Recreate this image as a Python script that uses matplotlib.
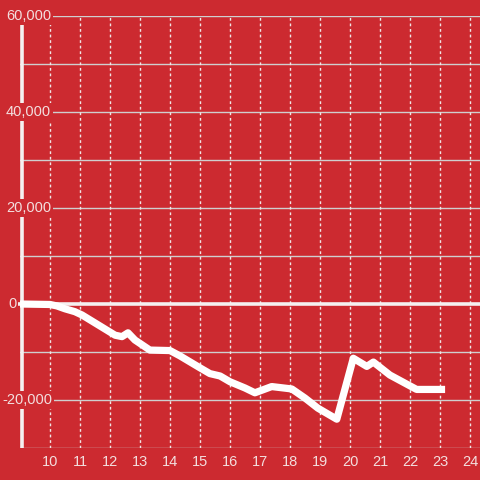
import numpy as np
import matplotlib
matplotlib.use("Agg")
import matplotlib.pyplot as plt
import matplotlib.transforms as mtransforms

# ─── data ────────────────────────────────────────────────────────────────────
hours = [9.0, 10.0, 10.23, 10.5, 10.83, 11.07, 12.17, 12.4, 12.6, 12.83,
         13.33, 14.0, 14.33, 15.0, 15.33, 15.67, 16.0, 16.5, 16.83, 17.39,
         18.06, 18.5, 18.93, 19.56, 20.11, 20.56, 20.78, 21.33, 22.22, 23.17]
values = [0, -100, -400, -1000, -1600, -2300, -6500, -6800, -6000, -7500,
          -9600, -9700, -10800, -13300, -14500, -15000, -16200, -17500, -18500, -17200,
          -17700, -19600, -21700, -24000, -11300, -13000, -12100, -14800, -17800, -17800]

x_ticks = list(range(10, 25))
y_grid = list(range(-30000, 60001, 10000))
y_labels = [-20000, 0, 20000, 40000, 60000]
# ──────────────────────────────────────────────────────────────────────────────

BG = '#cc2a30'
TXT = '#f3dede'
W = 480

plt.rcParams['font.family'] = ['Liberation Sans', 'DejaVu Sans']

fig = plt.figure(figsize=(4.8, 4.8), dpi=100, facecolor=BG)
ax = fig.add_axes([20 / W, 32 / W, 460 / W, 432 / W], facecolor=BG)

x0, x1 = 9.0, 9.0 + 460 / 30
ax.set_xlim(x0, x1)
ax.set_ylim(-30000, 60000)

for s in ax.spines.values():
    s.set_visible(False)

# grid
for g in y_grid:
    if g == 0:
        continue
    ax.axhline(g, color='#cfcfcf', lw=1, zorder=1)
for xt in x_ticks:
    ax.axvline(xt, color='#f0e6e6', lw=1, ls=(0, (2, 2)), zorder=1)

# zero line and y axis
ax.plot([x0 - 3 / 30, x1], [0, 0], color='#f5f0f0', lw=2.6, zorder=2,
        solid_capstyle='butt', clip_on=False)
ax.axvline(x0 + 1.5 / 30, color='#f5f0f0', lw=2.6, zorder=2)

# series
ax.plot(hours, values, color='white', lw=5.2, zorder=4,
        solid_joinstyle='round', solid_capstyle='butt')

# x ticks
ax.set_xticks(x_ticks)
ax.set_xticklabels([str(t) for t in x_ticks])
ax.tick_params(axis='x', length=0, pad=5, labelsize=10.5, labelcolor=TXT)
ax.set_yticks([])

# y labels drawn over the axis line with a background box
for v in y_labels:
    lbl = f'{v:,}'.replace('-', '-')
    xl = x0 - (18 if v < 0 else 14) / 30
    if v == 0:
        xl = x0 - 12 / 30
    ax.text(xl, v, lbl, ha='left', va='center', fontsize=10.5, color=TXT,
            zorder=5, clip_on=False,
            bbox=dict(facecolor=BG, edgecolor='none', pad=1.5))

fig.savefig('out.png', dpi=100, facecolor=BG)
